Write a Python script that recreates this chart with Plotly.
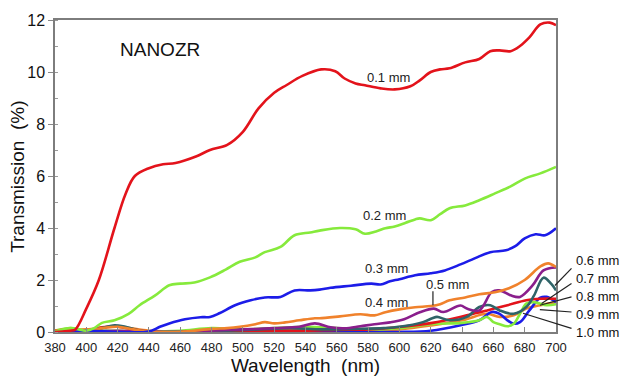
import plotly.graph_objects as go

# ---------------- data ----------------
wl_01 = [380, 385, 390, 393, 400, 408, 418, 425, 431, 440, 449, 457, 470, 479, 490, 500, 510, 520, 528, 538,
         550, 559, 565, 572, 578, 588, 597, 607, 613, 620, 626, 632, 642, 651, 658, 664, 671, 677, 683, 690, 696, 700]
t_01 = [0.0, 0.02, 0.05, 0.1, 0.9, 2.0, 4.0, 5.3, 6.0, 6.3, 6.45, 6.5, 6.75, 7.0, 7.2, 7.7, 8.6, 9.2, 9.5, 9.85,
        10.1, 10.03, 9.75, 9.56, 9.49, 9.37, 9.33, 9.45, 9.68, 10.0, 10.1, 10.14, 10.37, 10.5, 10.8, 10.83, 10.8,
        11.0, 11.33, 11.83, 11.9, 11.8]

wl_02 = [380, 385, 390, 395, 400, 405, 410, 418, 427, 434, 444, 453, 460, 469, 479, 489, 498, 508, 514, 524, 533,
         543, 549, 562, 572, 578, 585, 591, 597, 604, 610, 613, 620, 626, 632, 642, 651, 661, 671, 680, 690, 700]
t_02 = [0.02, 0.1, 0.15, 0.1, 0.05, 0.15, 0.35, 0.45, 0.7, 1.03, 1.41, 1.8, 1.86, 1.9, 2.1, 2.4, 2.7, 2.87, 3.07,
        3.27, 3.72, 3.83, 3.9, 4.0, 3.95, 3.78, 3.87, 3.99, 4.06, 4.2, 4.33, 4.37, 4.3, 4.53, 4.76, 4.87, 5.07,
        5.33, 5.6, 5.9, 6.1, 6.35]

wl_03 = [380, 400, 420, 440, 447, 453, 463, 473, 479, 485, 495, 505, 514, 524, 533, 543, 549, 556, 569, 582, 588,
         594, 600, 610, 620, 629, 639, 648, 658, 668, 674, 680, 687, 693, 700]
t_03 = [0.0, 0.05, 0.0, 0.02, 0.2, 0.33, 0.49, 0.57, 0.58, 0.72, 1.03, 1.22, 1.33, 1.35, 1.6, 1.6, 1.63, 1.7,
        1.78, 1.86, 1.83, 1.95, 2.03, 2.18, 2.26, 2.37, 2.6, 2.83, 3.07, 3.14, 3.3, 3.6, 3.76, 3.72, 3.99]

wl_04 = [380, 390, 400, 410, 420, 430, 440, 460, 480, 490, 498, 508, 514, 520, 527, 536, 546, 549, 562, 575, 584,
         591, 600, 610, 620, 626, 632, 642, 651, 661, 670, 680, 690, 695, 700]
t_04 = [0.05, 0.1, 0.05, 0.15, 0.2, 0.1, 0.02, 0.0, 0.12, 0.15, 0.2, 0.3, 0.38, 0.33, 0.37, 0.45, 0.53, 0.53,
        0.6, 0.68, 0.64, 0.76, 0.87, 0.95, 1.0, 1.07, 1.22, 1.33, 1.45, 1.53, 1.68, 2.0, 2.52, 2.64, 2.5]

wl_05 = [380, 400, 420, 440, 460, 480, 500, 520, 536, 546, 556, 565, 575, 584, 594, 603, 613, 622, 628, 639, 643,
         651, 659, 664, 671, 677, 685, 692, 700]
t_05 = [0.0, 0.02, 0.05, 0.02, 0.0, 0.05, 0.1, 0.15, 0.2, 0.33, 0.18, 0.14, 0.22, 0.3, 0.37, 0.49, 0.76, 0.9,
        0.77, 1.02, 0.9, 0.83, 1.54, 1.6, 1.41, 1.35, 1.79, 2.37, 2.48]

wl_06 = [380, 390, 400, 410, 418, 425, 435, 450, 470, 490, 510, 530, 550, 570, 590, 600, 615, 621, 624, 632, 643,
         651, 658, 664, 673, 681, 686, 692, 697, 700]
t_06 = [0.0, 0.02, 0.05, 0.15, 0.26, 0.2, 0.05, 0.0, 0.02, 0.05, 0.1, 0.15, 0.1, 0.12, 0.15, 0.2, 0.38, 0.53,
        0.58, 0.45, 0.58, 0.96, 1.03, 0.83, 0.7, 0.96, 1.41, 2.09, 1.85, 1.6]

wl_07 = [380, 390, 400, 410, 420, 430, 440, 460, 480, 500, 520, 540, 560, 580, 600, 621, 643, 656, 669, 681, 690, 700]
t_07 = [0.05, 0.08, 0.05, 0.18, 0.2, 0.1, 0.02, 0.0, 0.02, 0.05, 0.05, 0.05, 0.08, 0.1, 0.19, 0.35, 0.64, 0.83,
        1.03, 1.22, 1.28, 1.28]

wl_08 = [380, 390, 400, 420, 440, 460, 480, 500, 520, 540, 560, 580, 600, 620, 640, 651, 656, 660, 664, 669, 673,
         677, 681, 686, 694, 700]
t_08 = [0.05, 0.15, 0.05, 0.05, 0.02, 0.05, 0.15, 0.1, 0.15, 0.2, 0.15, 0.1, 0.15, 0.3, 0.35, 0.45, 0.58, 0.38,
        0.3, 0.22, 0.32, 0.7, 1.09, 1.15, 1.03, 1.07]

wl_09 = [380, 400, 420, 440, 460, 480, 500, 520, 540, 560, 580, 600, 620, 639, 651, 659, 664, 669, 673, 677, 683,
         690, 694, 700]
t_09 = [0.0, 0.05, 0.02, 0.0, 0.0, 0.0, 0.0, 0.0, 0.0, 0.0, 0.0, 0.0, 0.05, 0.26, 0.45, 0.77, 0.7, 0.45, 0.32,
        0.38, 0.83, 1.32, 1.35, 1.15]

wl_10 = [380, 400, 420, 440, 460, 480, 500, 520, 540, 560, 580, 600, 620, 640, 656, 664, 673, 681, 690, 700]
t_10 = [0.05, 0.1, 0.2, 0.05, 0.02, 0.05, 0.05, 0.08, 0.1, 0.05, 0.05, 0.1, 0.25, 0.45, 0.7, 0.58, 0.64, 0.9,
        1.03, 1.15]

thickness_labels = ["0.1 mm", "0.2 mm", "0.3 mm", "0.4 mm", "0.5 mm",
                    "0.6 mm", "0.7 mm", "0.8 mm", "0.9 mm", "1.0 mm"]
x_ticks = list(range(380, 701, 20))
y_ticks = [0, 2, 4, 6, 8, 10, 12]

# ---------------- styling ----------------
RED, GREEN, BLUE, ORANGE, PURPLE, TEAL = "#E3131B", "#86EA3C", "#1C1CE8", "#F0822C", "#8A1E8C", "#2F6468"
series = [
    (wl_10, t_10, ORANGE), (wl_09, t_09, BLUE), (wl_08, t_08, GREEN), (wl_07, t_07, RED),
    (wl_06, t_06, TEAL), (wl_05, t_05, PURPLE), (wl_04, t_04, ORANGE), (wl_03, t_03, BLUE),
    (wl_02, t_02, GREEN), (wl_01, t_01, RED),
]
names = thickness_labels[::-1]

FONT = "Arial, Liberation Sans, sans-serif"
X0, X1, Y0, Y1 = 380, 700, 0, 12

fig = go.Figure()
for (x, y, c), nm in zip(series, names):
    fig.add_trace(go.Scatter(x=x, y=y, mode="lines", name=nm,
                             line=dict(color=c, width=2.6, shape="spline", smoothing=1.0),
                             showlegend=False, cliponaxis=True))


def px(w):
    return (w - X0) / (X1 - X0)


def py(t):
    return (t - Y0) / (Y1 - Y0)


annos = [dict(x=px(447), y=py(10.85), text="NANOZR", xanchor="center", yanchor="middle",
              font=dict(size=19, color="#111"))]
inline = [("0.1 mm", 592.7, 9.8), ("0.2 mm", 590.7, 4.49), ("0.3 mm", 592, 2.45),
          ("0.4 mm", 592, 1.12), ("0.5 mm", 631, 1.83)]
for txt, w, t in inline:
    annos.append(dict(x=px(w), y=py(t), text=txt, xanchor="center", yanchor="middle",
                      font=dict(size=13, color="#222")))
right = [("0.6 mm", 2.76), ("0.7 mm", 2.07), ("0.8 mm", 1.35), ("0.9 mm", 0.68), ("1.0 mm", -0.01)]
for txt, t in right:
    annos.append(dict(x=px(711.4), y=py(t), text=txt, xanchor="left", yanchor="middle",
                      font=dict(size=13, color="#111")))
# y-axis title placed as a rotated annotation for precise positioning
annos.append(dict(x=-0.074, y=0.497, text="Transmission  (%)", textangle=-90,
                  xanchor="center", yanchor="middle", font=dict(size=19, color="#111")))

pointers = [
    (621.4, 1.57, 621.4, 1.03),
    (709.9, 2.45, 699.3, 1.79),
    (709.9, 1.87, 690.8, 1.10),
    (709.9, 1.35, 689.7, 1.03),
    (709.9, 0.77, 689.7, 0.86),
    (709.9, 0.14, 678.9, 0.72),
]
shapes = [dict(type="line", xref="paper", yref="paper", x0=px(a), y0=py(b), x1=px(c), y1=py(d),
               line=dict(color="#222", width=1.2)) for a, b, c, d in pointers]

fig.update_layout(
    width=621, height=382,
    margin=dict(l=55, r=65, t=20, b=50, autoexpand=False),
    paper_bgcolor="white", plot_bgcolor="white",
    font=dict(family=FONT, color="#111"),
    annotations=[dict(a, xref="paper", yref="paper", showarrow=False) for a in annos],
    shapes=shapes,
)
fig.update_xaxes(
    range=[X0, X1], tickvals=x_ticks, ticktext=[str(v) for v in x_ticks],
    ticks="inside", ticklen=5, tickcolor="#888", tickwidth=1,
    showline=True, linecolor="#7d7d7d", linewidth=1.5, mirror=True,
    showgrid=False, zeroline=False, automargin=False,
    tickfont=dict(size=13, color="#222"), ticklabelstandoff=3,
    title=dict(text="Wavelength  (nm)", font=dict(size=19, color="#111"), standoff=4),
)
fig.update_yaxes(
    range=[Y0, Y1], tickvals=y_ticks, ticktext=[str(v) for v in y_ticks],
    ticks="outside", ticklen=5, tickcolor="#888", tickwidth=1,
    minor=dict(dtick=1, ticks="inside", ticklen=3, tickcolor="#999"),
    showline=True, linecolor="#7d7d7d", linewidth=1.5, mirror=True,
    showgrid=False, zeroline=False, automargin=False,
    tickfont=dict(size=16, color="#111"),
)

fig.write_html("out.html")
